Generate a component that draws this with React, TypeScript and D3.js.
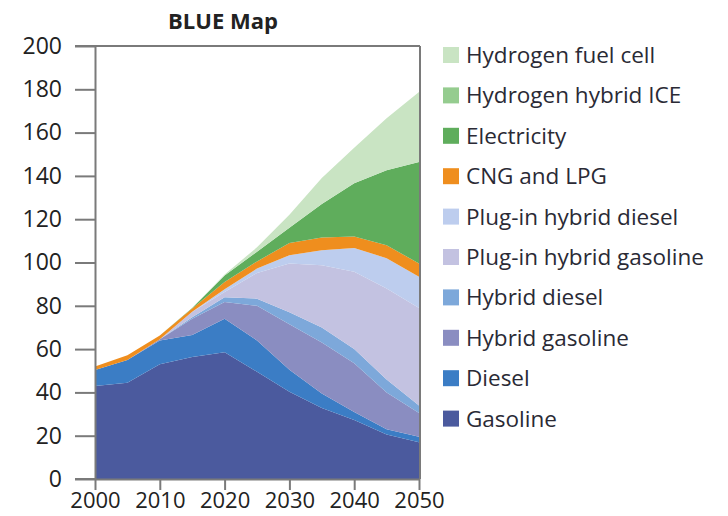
import React, { useEffect, useRef } from 'react';
import * as d3 from 'd3';

const years = [2000, 2005, 2010, 2015, 2020, 2025, 2030, 2035, 2040, 2045, 2050];

const gasoline = [43, 44.5, 53, 56.4, 58.6, 49.5, 40.3, 32.8, 27.2, 20.5, 17];
const diesel = [7.3, 10.5, 11, 10.1, 15.4, 14.5, 10.2, 6.7, 3.8, 2.5, 2.5];
const hybridGasoline = [0, 0, 0.5, 7.5, 7.8, 16, 21, 23.5, 22.5, 17, 11];
const hybridDiesel = [0, 0, 0, 0.7, 2.2, 3.3, 5.5, 7, 6.5, 6, 3.5];
const plugInGasoline = [0, 0, 0, 2.5, 2.4, 11.9, 22.5, 28.7, 35.7, 42, 45];
const plugInDiesel = [0, 0, 0, 0, 1.3, 2, 3.9, 7, 11, 14, 14.4];
const cngLpg = [1.7, 2.2, 1.8, 1.6, 3.3, 3.3, 5.6, 5.8, 5.3, 6, 6.1];
const electricity = [0, 0, 0, 0.2, 3, 4.5, 7, 15.5, 24.6, 34.6, 46.9];
const hydrogenIce = [0, 0, 0, 0, 0, 0, 0, 0, 0, 0, 0];
const hydrogenFuelCell = [0, 0, 0, 0, 0.5, 2, 6, 12, 16.4, 24, 32.3];

// bottom to top
const series = [
  { key: 'Gasoline', values: gasoline, color: '#4b5a9e' },
  { key: 'Diesel', values: diesel, color: '#3b7dc5' },
  { key: 'Hybrid gasoline', values: hybridGasoline, color: '#8a8dc1' },
  { key: 'Hybrid diesel', values: hybridDiesel, color: '#7da8da' },
  { key: 'Plug-in hybrid gasoline', values: plugInGasoline, color: '#c3c2e1' },
  { key: 'Plug-in hybrid diesel', values: plugInDiesel, color: '#bdcdee' },
  { key: 'CNG and LPG', values: cngLpg, color: '#ef8e1e' },
  { key: 'Electricity', values: electricity, color: '#5fad5c' },
  { key: 'Hydrogen hybrid ICE', values: hydrogenIce, color: '#95cc8f' },
  { key: 'Hydrogen fuel cell', values: hydrogenFuelCell, color: '#c9e4c3' },
];

const yTicks = [0, 20, 40, 60, 80, 100, 120, 140, 160, 180, 200];
const xTicks = [2000, 2010, 2020, 2030, 2040, 2050];

const App = () => {
  const ref = useRef<SVGSVGElement>(null);

  useEffect(() => {
    const svg = d3.select(ref.current);
    svg.selectAll('*').remove();

    const font = '"Open Sans", sans-serif';
    const left = 95, right = 419, top = 46, bottom = 479;

    const x = d3.scaleLinear().domain([2000, 2050]).range([left, right]);
    const y = d3.scaleLinear().domain([0, 200]).range([bottom, top]);

    const rows = years.map((yr, i) => {
      const r: any = { year: yr };
      series.forEach(s => { r[s.key] = s.values[i]; });
      return r;
    });

    const stack = d3.stack().keys(series.map(s => s.key));
    const layers = stack(rows);

    const area = d3.area<any>()
      .x(d => x(d.data.year))
      .y0(d => y(d[0]))
      .y1(d => y(d[1]));

    svg.append('g')
      .selectAll('path')
      .data(layers)
      .enter()
      .append('path')
      .attr('d', area)
      .attr('fill', (d, i) => series[i].color);

    const axisColor = '#7a7a7a';

    // frame: top and right
    svg.append('line')
      .attr('x1', left - 20).attr('x2', right + 1)
      .attr('y1', top).attr('y2', top)
      .attr('stroke', axisColor).attr('stroke-width', 2);
    svg.append('line')
      .attr('x1', right + 1).attr('x2', right + 1)
      .attr('y1', top).attr('y2', bottom)
      .attr('stroke', axisColor).attr('stroke-width', 2);

    // y axis
    const yAxis = svg.append('g')
      .attr('transform', `translate(${left},0)`)
      .call(d3.axisLeft(y).tickValues(yTicks).tickSize(20).tickPadding(13).tickSizeOuter(0));
    yAxis.select('.domain').attr('stroke', axisColor).attr('stroke-width', 2);
    yAxis.selectAll('.tick line').attr('stroke', axisColor).attr('stroke-width', 2);
    yAxis.selectAll('.tick text')
      .attr('font-family', font).attr('font-size', 23).attr('fill', '#222');

    // x axis
    const xAxis = svg.append('g')
      .attr('transform', `translate(0,${bottom})`)
      .call(d3.axisBottom(x).tickValues(xTicks).tickFormat(d3.format('d')).tickSize(11).tickPadding(2).tickSizeOuter(0));
    xAxis.select('.domain').attr('stroke', axisColor).attr('stroke-width', 2);
    xAxis.selectAll('.tick line').attr('stroke', axisColor).attr('stroke-width', 2);
    xAxis.selectAll('.tick text')
      .attr('font-family', font).attr('font-size', 22).attr('fill', '#222');

    svg.append('line')
      .attr('x1', left - 20).attr('x2', left)
      .attr('y1', bottom).attr('y2', bottom)
      .attr('stroke', axisColor).attr('stroke-width', 2);

    // title
    svg.append('text')
      .attr('x', 223).attr('y', 29)
      .attr('text-anchor', 'middle')
      .attr('font-family', font).attr('font-weight', 'bold').attr('font-size', 22)
      .attr('fill', '#222')
      .text('BLUE Map');

    // legend (top to bottom)
    const legendItems = series.slice().reverse();
    const lg = svg.append('g').attr('transform', 'translate(443,47)');
    legendItems.forEach((s, i) => {
      const g = lg.append('g').attr('transform', `translate(0,${i * 40.4})`);
      g.append('rect').attr('width', 16).attr('height', 16).attr('fill', s.color);
      g.append('text')
        .attr('x', 23).attr('y', 16)
        .attr('font-family', font).attr('font-size', 22.5).attr('fill', '#2a2a35')
        .text(s.key);
    });
  }, []);

  return (
    <svg
      ref={ref}
      width={728}
      height={516}
      style={{ display: 'block', position: 'absolute', left: 0, top: 0 }}
    ></svg>
  );
};

export default App;
